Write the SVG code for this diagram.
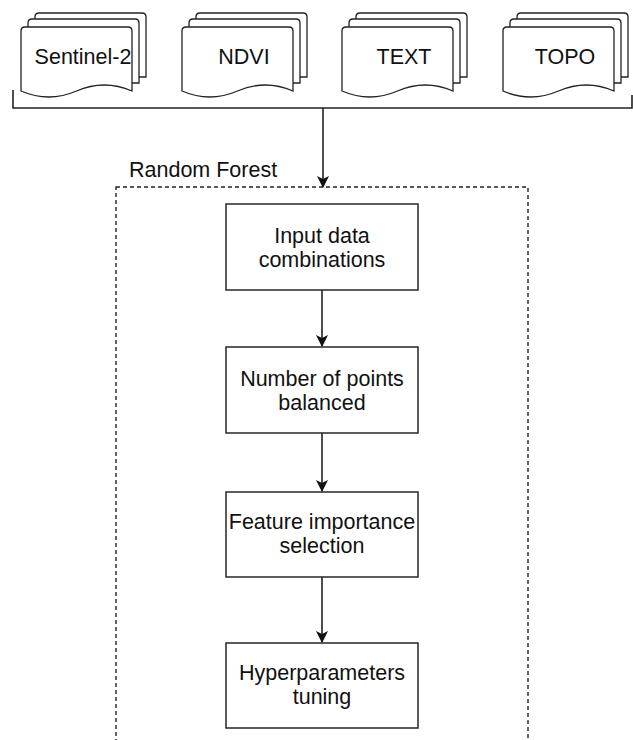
<svg xmlns="http://www.w3.org/2000/svg" width="633" height="740" viewBox="0 0 633 740">
<style>
.sheet{fill:#fff;stroke:#222;stroke-width:1.3}
.box{fill:#fff;stroke:#333;stroke-width:1.6}
.t{font-family:"Liberation Sans",Arial,sans-serif;font-size:21.5px;fill:#111;text-anchor:middle}
.lbl{font-family:"Liberation Sans",Arial,sans-serif;font-size:21.5px;fill:#111}
.edge{fill:none;stroke:#222;stroke-width:1.6}
.frame{fill:none;stroke:#222;stroke-width:1.4;stroke-dasharray:4 3}
</style>
<defs>
<g id="mdoc">
<path class="sheet" d="M14,77 L14,17 Q14,13 18,13 L121,13 Q125,13 125,17 L125,77 Z"/>
<path class="sheet" d="M7,83 L7,23 Q7,19 11,19 L114,19 Q118,19 118,23 L118,83 Z"/>
<path class="sheet" d="M0,91 L0,31 Q0,27 4,27 L107,27 Q111,27 111,31 L111,91 Q83.25,79 55.5,91 Q27.75,103 0,91 Z"/>
</g>
<marker id="ah" viewBox="0 0 12 12" refX="11" refY="6" markerWidth="12" markerHeight="12" markerUnits="userSpaceOnUse" orient="auto">
<path d="M0,0 L12,6 L0,12 L3,6 Z" fill="#111"/>
</marker>
</defs>

<g id="sentinel2">
<use href="#mdoc" transform="translate(21,0)"/>
<text class="t" x="83" y="64">Sentinel-2</text>
</g>
<g id="ndvi">
<use href="#mdoc" transform="translate(182,0)"/>
<text class="t" x="244" y="64">NDVI</text>
</g>
<g id="text">
<use href="#mdoc" transform="translate(342,0)"/>
<text class="t" x="404" y="64">TEXT</text>
</g>
<g id="topo">
<use href="#mdoc" transform="translate(503,0)"/>
<text class="t" x="565" y="64">TOPO</text>
</g>

<g id="random-forest">
<rect class="frame" x="116" y="187" width="412" height="580"/>
<text class="lbl" x="129" y="177">Random Forest</text>
</g>

<g id="input-data">
<rect class="box" x="226" y="204" width="192" height="86"/>
<text class="t" x="322" y="243">Input data</text>
<text class="t" x="322" y="267">combinations</text>
</g>
<g id="num-points">
<rect class="box" x="226" y="347" width="192" height="86"/>
<text class="t" x="322" y="386">Number of points</text>
<text class="t" x="322" y="410">balanced</text>
</g>
<g id="feature-importance">
<rect class="box" x="226" y="492" width="192" height="85"/>
<text class="t" x="322" y="529">Feature importance</text>
<text class="t" x="322" y="553">selection</text>
</g>
<g id="hyperparameters">
<rect class="box" x="226" y="643" width="192" height="85"/>
<text class="t" x="322" y="680">Hyperparameters</text>
<text class="t" x="322" y="704">tuning</text>
</g>

<g id="connectors">
<path class="edge" d="M13,90 L13,108 L632,108 L632,95"/>
<path class="edge" d="M323,108 L323,187" marker-end="url(#ah)"/>
<path class="edge" d="M322,290 L322,346" marker-end="url(#ah)"/>
<path class="edge" d="M322,433 L322,491" marker-end="url(#ah)"/>
<path class="edge" d="M322,577 L322,642" marker-end="url(#ah)"/>
</g>
</svg>
